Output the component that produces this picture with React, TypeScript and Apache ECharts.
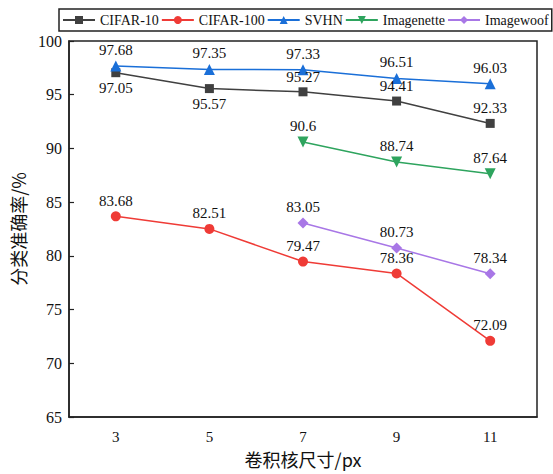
import React, { useEffect, useRef } from "react";
import * as echarts from "echarts";

const categories = ["3", "5", "7", "9", "11"];
const cifar10 = [97.05, 95.57, 95.27, 94.41, 92.33];
const cifar100 = [83.68, 82.51, 79.47, 78.36, 72.09];
const svhn = [97.68, 97.35, 97.33, 96.51, 96.03];
const imagenette = [null, null, 90.6, 88.74, 87.64];
const imagewoof = [null, null, 83.05, 80.73, 78.34];
const cifar10LabelPos = ["bottom", "bottom", "top", "top", "top"];

const serif = "Liberation Serif";
const cjk = "Noto Sans CJK SC";

export default function App() {
  const ref = useRef<HTMLDivElement>(null);
  useEffect(() => {
    const chart = echarts.init(ref.current!, null, { renderer: "svg" });
    const labelStyle = { show: true, fontFamily: serif, fontSize: 15, color: "#111", distance: 3 };
    const mk = (name: string, data: any[], color: string, symbol: string, size: number) => ({
      name,
      type: "line",
      data,
      symbol,
      symbolSize: size,
      connectNulls: false,
      lineStyle: { color, width: 1.5 },
      itemStyle: { color },
      label: { ...labelStyle, position: "top" },
    });
    chart.setOption({
      animation: false,
      backgroundColor: "#fff",
      legend: {
        top: 9,
        left: 59,
        width: 700,
        itemWidth: 32,
        itemHeight: 10,
        itemGap: 2,
        padding: [4, 3],
        borderColor: "#222",
        borderWidth: 1.5,
        textStyle: { fontFamily: serif, fontSize: 14, color: "#111" },
        data: ["CIFAR-10", "CIFAR-100", "SVHN", "Imagenette", "Imagewoof"],
      },
      grid: { left: 69, right: 16, top: 41, bottom: 57 },
      xAxis: {
        type: "category",
        data: categories,
        boundaryGap: true,
        name: "卷积核尺寸/px",
        nameLocation: "middle",
        nameGap: 33,
        nameTextStyle: { fontFamily: cjk, fontSize: 18, color: "#111" },
        axisLine: { lineStyle: { color: "#222", width: 1.5 } },
        axisTick: { inside: true, alignWithLabel: true, length: 5, lineStyle: { color: "#222", width: 1.2 } },
        axisLabel: { fontFamily: serif, fontSize: 15, color: "#111", margin: 12, interval: 0 },
        splitLine: { show: false },
      },
      yAxis: {
        type: "value",
        min: 65,
        max: 100,
        interval: 5,
        name: "分类准确率/%",
        nameLocation: "middle",
        nameGap: 27,
        nameTextStyle: { fontFamily: cjk, fontSize: 18, color: "#111" },
        axisLine: { show: true, lineStyle: { color: "#222", width: 1.5 } },
        axisTick: { show: true, inside: true, length: 5, lineStyle: { color: "#222", width: 1.2 } },
        axisLabel: { fontFamily: serif, fontSize: 16, color: "#111", margin: 7 },
        splitLine: { show: false },
      },
      graphic: [
        {
          type: "rect",
          shape: { x: 69, y: 41, width: 468, height: 376 },
          style: { fill: "none", stroke: "#222", lineWidth: 1.5 },
          silent: true,
          z: 0,
        },
      ],
      series: [
        mk(
          "CIFAR-10",
          cifar10.map((v, i) => ({ value: v, label: { position: cifar10LabelPos[i] } })),
          "#404040",
          "rect",
          9
        ),
        mk("CIFAR-100", cifar100, "#ef3b36", "circle", 10),
        mk("SVHN", svhn, "#1a6fd8", "triangle", 11),
        mk("Imagenette", imagenette, "#2ea45e", "path://M0,0 L10,0 L5,9 Z", 11),
        mk("Imagewoof", imagewoof, "#a877e6", "diamond", 11),
      ],
    });
    return () => chart.dispose();
  }, []);
  return <div ref={ref} style={{ width: 553, height: 474, position: "absolute", left: 0, top: 0 }} />;
}
